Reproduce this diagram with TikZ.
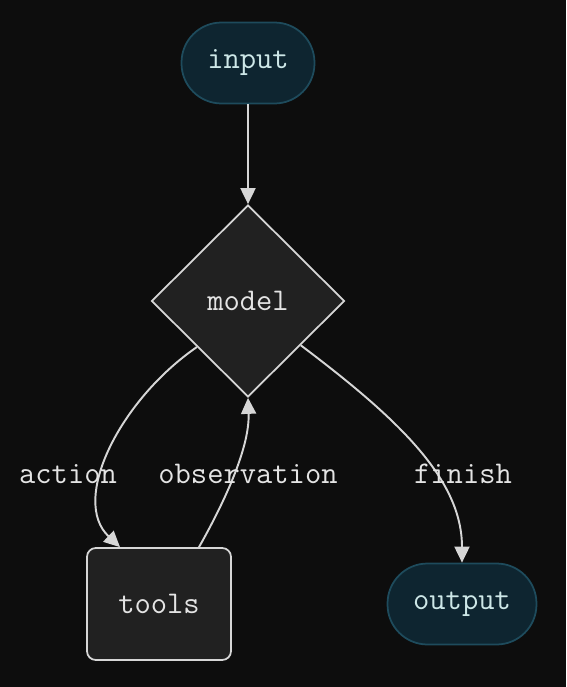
\documentclass[tikz,border=0pt]{standalone}
\usepackage{fontspec}
\usepackage{xcolor}
\usepackage{tikz}
\usetikzlibrary{arrows.meta, positioning, shapes.geometric, calc}
\definecolor{bgdark}{HTML}{0D0D0D}
\definecolor{pillfill}{HTML}{0E2530}
\definecolor{pillline}{HTML}{1E4B5C}
\definecolor{boxfill}{HTML}{212121}
\definecolor{edgegray}{HTML}{D6D6D6}
\definecolor{textgray}{HTML}{E4E4E4}

\begin{document}
\begin{tikzpicture}[
    x=0.02cm, y=-0.02cm,
    base/.style={font=\fontsize{18}{21}\selectfont\ttfamily, text=textgray, line width=1pt},
    pill/.style={base, rectangle, rounded corners=0.8cm, fill=pillfill, draw=pillline, minimum height=1.62cm, text=textgray!90!cyan},
    decision/.style={base, diamond, draw=edgegray, minimum width=3.86cm, minimum height=3.84cm, inner sep=0pt, fill=boxfill},
    toolbox/.style={base, rectangle, rounded corners=5pt, fill=boxfill, draw=edgegray, minimum width=2.88cm, minimum height=2.24cm},
    connector/.style={-{Triangle[length=3.2mm, width=3mm]}, line width=1.1pt, edgegray},
    label/.style={font=\fontsize{18}{21}\selectfont\ttfamily, text=textgray},
]

% background
\fill[bgdark] (0,0) rectangle (566,687);
\useasboundingbox (0,0) rectangle (566,687);

% Nodes
\node[pill, minimum width=2.66cm] (input) at (248,63) {input};
\node[decision] (model) at (248,301) {model};
\node[toolbox] (tools) at (159,604) {tools};
\node[pill, minimum width=2.98cm] (output) at (462,604) {output};

% Edges
\draw[connector] (input) -- (model);
\draw[connector] (model.222) .. controls (120,400) and (70,500) .. ([xshift=-0.78cm]tools.north);
\draw[connector] ([xshift=0.8cm]tools.north) .. controls (220,510) and (250,450) .. (model.south);
\draw[connector] (model.320) .. controls (400,420) and (462,480) .. (output.north);

% Edge labels
\node[label] (lblaction) at (68,474) {action};
\node[label] (lblobs) at (248,474) {observation};
\node[label] (lblfinish) at (463,474) {finish};

\end{tikzpicture}
\end{document}
